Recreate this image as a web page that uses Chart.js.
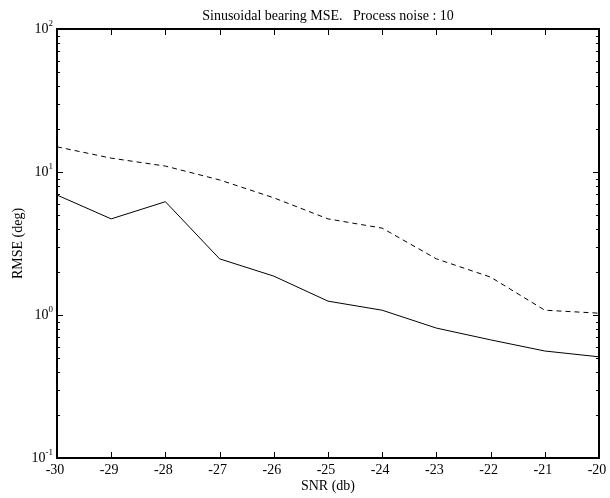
<!DOCTYPE html>
<html>
<head>
<meta charset="utf-8">
<script src="https://cdn.jsdelivr.net/npm/chart.js@4"></script>
<style>
  html, body { margin: 0; padding: 0; background: #fff; }
  #wrap { width: 610px; height: 498px; }
</style>
</head>
<body>
<div id="wrap"><canvas id="chart" width="610" height="498"></canvas></div>
<script>
// SNR values (db) along the x axis
const snr = [-30, -29, -28, -27, -26, -25, -24, -23, -22, -21, -20];
// dashed curve
const rmseDashed = [15, 12.5, 11, 8.8, 6.6, 4.7, 4.05, 2.47, 1.84, 1.08, 1.03];
// solid curve
const rmseSolid = [6.9, 4.7, 6.2, 2.47, 1.87, 1.25, 1.08, 0.81, 0.67, 0.56, 0.51];
const xTicks = [-30, -29, -28, -27, -26, -25, -24, -23, -22, -21, -20];
const yExponents = [-1, 0, 1, 2];

const FONT = "'Liberation Serif', 'DejaVu Serif', serif";

function pts(ys) {
    return snr.map((x, i) => ({ x: x, y: ys[i] }));
}

// draws the inward ticks, tick labels, titles (matlab look)
const axesPlugin = {
    id: 'axesPlugin',
    afterDraw(chart) {
        const ctx = chart.ctx;
        const a = chart.chartArea;
        const xs = chart.scales.x;
        const ys = chart.scales.y;
        ctx.save();
        ctx.strokeStyle = '#000';
        ctx.lineWidth = 1;

        // x ticks top and bottom
        xTicks.forEach(v => {
            const px = Math.round(xs.getPixelForValue(v)) + 0.5;
            ctx.beginPath();
            ctx.moveTo(px, a.bottom); ctx.lineTo(px, a.bottom - 6);
            ctx.moveTo(px, a.top); ctx.lineTo(px, a.top + 6);
            ctx.stroke();
        });
        // y ticks, major + minor, left and right
        for (let e = -1; e <= 2; e++) {
            for (let m = 1; m <= 9; m++) {
                const v = m * Math.pow(10, e);
                if (v > 100.0001) continue;
                const py = Math.round(ys.getPixelForValue(v)) + 0.5;
                const len = m === 1 ? 6 : 3;
                ctx.beginPath();
                ctx.moveTo(a.left, py); ctx.lineTo(a.left + len, py);
                ctx.moveTo(a.right, py); ctx.lineTo(a.right - len, py);
                ctx.stroke();
            }
        }

        // box
        ctx.lineWidth = 2;
        ctx.strokeRect(a.left, a.top, a.right - a.left, a.bottom - a.top);

        ctx.fillStyle = '#000';
        // x tick labels
        ctx.font = '14px ' + FONT;
        ctx.textAlign = 'center';
        ctx.textBaseline = 'alphabetic';
        xTicks.forEach(v => {
            ctx.fillText(String(v), xs.getPixelForValue(v) - 2, a.bottom + 16);
        });
        // y tick labels 10^e
        yExponents.forEach(e => {
            const py = ys.getPixelForValue(Math.pow(10, e));
            ctx.font = '9px ' + FONT;
            const sup = String(e);
            const sw = ctx.measureText(sup).width;
            ctx.textAlign = 'left';
            ctx.textBaseline = 'alphabetic';
            const supX = a.left - 4 - sw;
            ctx.fillText(sup, supX, py - 3);
            ctx.font = '14px ' + FONT;
            ctx.textAlign = 'right';
            ctx.fillText('10', supX, py + 4);
        });

        // axis titles
        ctx.font = '14px ' + FONT;
        ctx.textAlign = 'center';
        ctx.textBaseline = 'alphabetic';
        ctx.fillText('SNR (db)', (a.left + a.right) / 2, 490);
        ctx.save();
        ctx.translate(22, (a.top + a.bottom) / 2);
        ctx.rotate(-Math.PI / 2);
        ctx.fillText('RMSE (deg)', 0, 0);
        ctx.restore();

        // title
        ctx.font = '14px ' + FONT;
        ctx.fillText('Sinusoidal bearing MSE.   Process noise : 10', (a.left + a.right) / 2, 20);
        ctx.restore();
    }
};

new Chart(document.getElementById('chart'), {
    type: 'line',
    data: {
        datasets: [{
            label: 'dashed',
            data: pts(rmseDashed),
            borderColor: '#000',
            borderWidth: 1,
            borderDash: [5, 4],
            pointRadius: 0,
            tension: 0,
            fill: false
        }, {
            label: 'solid',
            data: pts(rmseSolid),
            borderColor: '#000',
            borderWidth: 1,
            pointRadius: 0,
            tension: 0,
            fill: false
        }]
    },
    options: {
        responsive: false,
        animation: false,
        events: [],
        layout: { padding: { top: 29, right: 11, left: 0, bottom: 0 } },
        plugins: {
            legend: { display: false },
            tooltip: { enabled: false }
        },
        scales: {
            x: {
                type: 'linear',
                min: -30, max: -20,
                grid: { display: false, drawTicks: false },
                border: { display: false },
                ticks: { display: false },
                afterFit(scale) { scale.height = 40; }
            },
            y: {
                type: 'logarithmic',
                min: 0.1, max: 100,
                grid: { display: false, drawTicks: false },
                border: { display: false },
                ticks: { display: false },
                afterFit(scale) { scale.width = 57; }
            }
        }
    },
    plugins: [axesPlugin]
});
</script>
</body>
</html>
